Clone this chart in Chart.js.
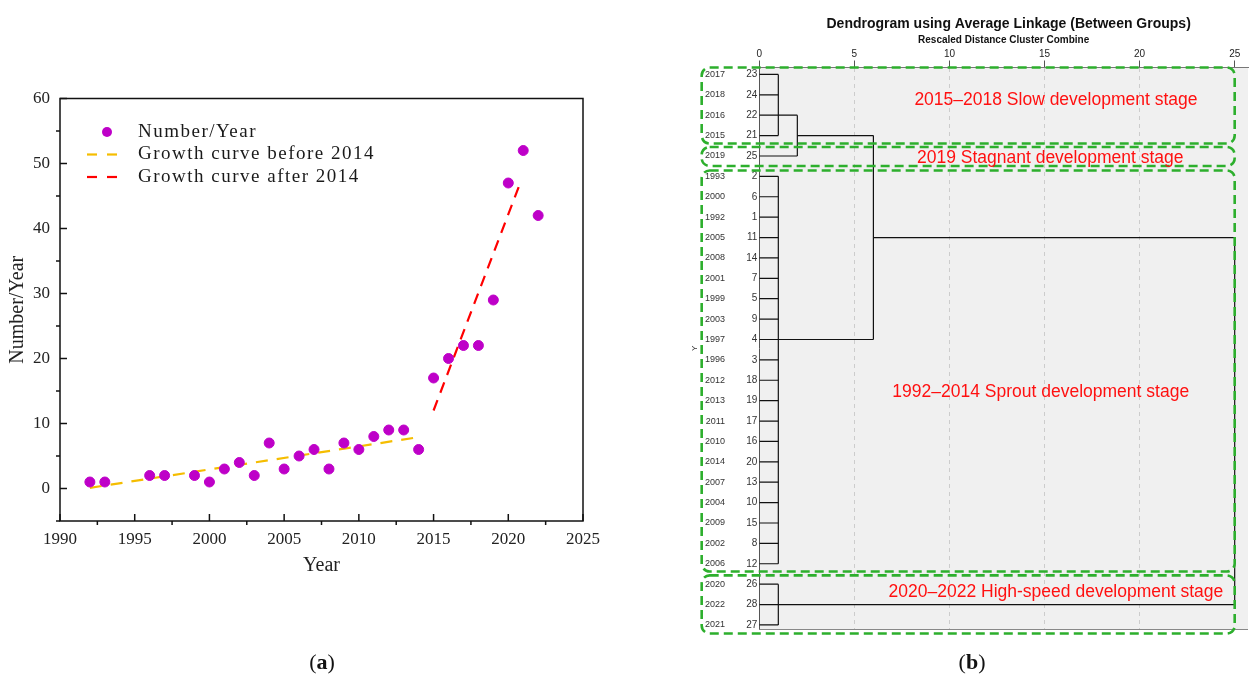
<!DOCTYPE html>
<html>
<head>
<meta charset="utf-8">
<title>Growth and clustering of papers per year</title>
<script src="https://cdn.jsdelivr.net/npm/chart.js@4.4.1/dist/chart.umd.min.js"></script>
<style>
  body { margin: 0; background: #fff; }
  #page { position: relative; width: 1250px; height: 680px; overflow: hidden; }
  canvas { position: absolute; top: 0; }
  .caption { position: absolute; top: 649px; width: 100px; text-align: center;
             font: 22px/26px "Liberation Serif", serif; color: #111; }
</style>
</head>
<body>
<div id="page">
  <canvas id="chartA" width="620" height="680" style="left:0"></canvas>
  <canvas id="chartB" width="560" height="680" style="left:690px"></canvas>
  <div class="caption" style="left:272px">(<b>a</b>)</div>
  <div class="caption" style="left:922px">(<b>b</b>)</div>
</div>
<script>
// ---- panel (a) data: papers per year and the two growth lines ----
const years = [1992, 1993, 1996, 1997, 1999, 2000, 2001, 2002, 2003, 2004, 2005, 2006, 2007, 2008,
               2009, 2010, 2011, 2012, 2013, 2014, 2015, 2016, 2017, 2018, 2019, 2020, 2021, 2022];
const counts = [1, 1, 2, 2, 2, 1, 3, 4, 2, 7, 3, 5, 6, 3,
                7, 6, 8, 9, 9, 6, 17, 20, 22, 22, 29, 47, 52, 42];
const fitBeforeX = [1992, 2014];
const fitBeforeY = [0.1, 7.9];
const fitAfterX = [2015, 2020.7];
const fitAfterY = [12, 46.4];
const xTicksA = [1990, 1995, 2000, 2005, 2010, 2015, 2020, 2025];
const yTicksA = [0, 10, 20, 30, 40, 50, 60];

// ---- panel (b) data: dendrogram leaves (top to bottom) and merges ----
const leafYears = ['2017', '2018', '2016', '2015', '2019', '1993', '2000', '1992', '2005', '2008',
                   '2001', '1999', '2003', '1997', '1996', '2012', '2013', '2011', '2010', '2014',
                   '2007', '2004', '2009', '2002', '2006', '2020', '2022', '2021'];
const leafCases = [23, 24, 22, 21, 25, 2, 6, 1, 11, 14, 7, 5, 9, 4, 3, 18, 19, 17, 16, 20,
                   13, 10, 15, 8, 12, 26, 28, 27];
const distTicks = [0, 5, 10, 15, 20, 25];
// merge i joins mergeKids[i] at distance mergeHeights[i]; its link leaves at row mergeRows[i]
const mergeHeights = [1, 2, 1, 6, 1, 25];
const mergeRows = [2, 3, 13, 8, 26, 17];
const mergeKids = [
  ['L0', 'L1', 'L2', 'L3'],
  ['M0', 'L4'],
  ['L5', 'L6', 'L7', 'L8', 'L9', 'L10', 'L11', 'L12', 'L13', 'L14',
   'L15', 'L16', 'L17', 'L18', 'L19', 'L20', 'L21', 'L22', 'L23', 'L24'],
  ['M1', 'M2'],
  ['L25', 'L26', 'L27'],
  ['M3', 'M4']
];
const stageNames = ['2015–2018 Slow development stage', '2019 Stagnant development stage',
                    '1992–2014 Sprout development stage', '2020–2022 High-speed development stage'];
const stageTop = [-0.34, 3.56, 4.71, 24.57];
const stageBottom = [3.39, 4.49, 24.38, 27.42];
const stageLabelX = [15.6, 15.3, 14.8, 15.6];
const stageLabelRow = [1.25, 4.1, 15.6, 25.4];

const serif = '"Liberation Serif", "DejaVu Serif", serif';
const sans = '"Liberation Sans", Arial, sans-serif';

// box frame plus Origin-style ticks (major inward, minor outward)
const frameTicks = {
  id: 'frameTicks',
  afterDraw(chart) {
    const { ctx, chartArea: a, scales: { x, y } } = chart;
    ctx.save();
    ctx.strokeStyle = '#111';
    ctx.lineWidth = 1.5;
    ctx.strokeRect(a.left, a.top, a.right - a.left, a.bottom - a.top);
    xTicksA.forEach((v, i) => {
      const px = x.getPixelForValue(v);
      ctx.beginPath(); ctx.moveTo(px, a.bottom); ctx.lineTo(px, a.bottom - 7); ctx.stroke();
      if (i < xTicksA.length - 1) {
        const mx = x.getPixelForValue(v + 2.5);
        ctx.beginPath(); ctx.moveTo(mx, a.bottom); ctx.lineTo(mx, a.bottom + 4); ctx.stroke();
      }
    });
    yTicksA.forEach(v => {
      const py = y.getPixelForValue(v);
      ctx.beginPath(); ctx.moveTo(a.left, py); ctx.lineTo(a.left + 7, py); ctx.stroke();
      const my = y.getPixelForValue(v - 5);
      ctx.beginPath(); ctx.moveTo(a.left, my); ctx.lineTo(a.left - 4, my); ctx.stroke();
    });
    ctx.restore();
  }
};

// legend sitting inside the plot, top left
const insideLegend = {
  id: 'insideLegend',
  afterDraw(chart) {
    const { ctx, chartArea: a } = chart;
    ctx.save();
    ctx.font = '19px ' + serif;
    ctx.letterSpacing = '1.5px';
    ctx.textBaseline = 'middle';
    chart.data.datasets.forEach((ds, i) => {
      const y = a.top + 33.5 + i * 22.5;
      if (ds.showLine) {
        ctx.strokeStyle = ds.borderColor;
        ctx.lineWidth = ds.borderWidth;
        ctx.setLineDash([10, 10]);
        ctx.beginPath(); ctx.moveTo(a.left + 27, y); ctx.lineTo(a.left + 57, y); ctx.stroke();
        ctx.setLineDash([]);
      } else {
        ctx.fillStyle = ds.backgroundColor;
        ctx.beginPath(); ctx.arc(a.left + 47, y, 5, 0, Math.PI * 2); ctx.fill();
      }
      ctx.fillStyle = '#1a1a1a';
      ctx.fillText(ds.label, a.left + 78, y);
    });
    ctx.restore();
  }
};

new Chart(document.getElementById('chartA'), {
  type: 'scatter',
  data: {
    datasets: [
      {
        label: 'Number/Year',
        data: years.map((yr, i) => ({ x: yr, y: counts[i] })),
        backgroundColor: '#BE00C8',
        borderColor: '#BE00C8',
        pointRadius: 5,
        pointHoverRadius: 5
      },
      {
        label: 'Growth curve before 2014',
        data: fitBeforeX.map((v, i) => ({ x: v, y: fitBeforeY[i] })),
        showLine: true,
        borderColor: '#F5BD00',
        borderWidth: 2.2,
        borderDash: [12, 9],
        pointRadius: 0
      },
      {
        label: 'Growth curve after 2014',
        data: fitAfterX.map((v, i) => ({ x: v, y: fitAfterY[i] })),
        showLine: true,
        borderColor: '#FF0000',
        borderWidth: 2.2,
        borderDash: [11, 8],
        pointRadius: 0
      }
    ]
  },
  options: {
    responsive: false,
    animation: false,
    layout: { padding: { top: 98.5, right: 37, bottom: 99, left: 0 } },
    plugins: { legend: { display: false }, tooltip: { enabled: false } },
    scales: {
      x: {
        type: 'linear', min: 1990, max: 2025,
        afterBuildTicks: s => { s.ticks = xTicksA.map(v => ({ value: v })); },
        afterFit: s => { s.height = 60; },
        grid: { display: false, drawTicks: false },
        border: { display: false },
        ticks: { padding: 8, color: '#222', font: { family: serif, size: 17 }, callback: v => v },
        title: { display: true, text: 'Year', color: '#222', padding: { top: 0, bottom: 3 },
                 font: { family: serif, size: 20 } }
      },
      y: {
        type: 'linear', min: -5, max: 60,
        afterBuildTicks: s => { s.ticks = yTicksA.map(v => ({ value: v })); },
        afterFit: s => { s.width = 60; },
        grid: { display: false, drawTicks: false },
        border: { display: false },
        ticks: { padding: 10, color: '#222', font: { family: serif, size: 17 } },
        title: { display: true, text: 'Number/Year', color: '#222', padding: { top: 6, bottom: 0 },
                 font: { family: serif, size: 20 } }
      }
    }
  },
  plugins: [frameTicks, insideLegend]
});

// ---- panel (b) ----
function nodeOf(id) {
  const i = Number(id.slice(1));
  return id[0] === 'L' ? { x: 0, y: i } : { x: mergeHeights[i], y: mergeRows[i] };
}
const treeSegments = [];
mergeKids.forEach((kids, m) => {
  const h = mergeHeights[m];
  const pts = kids.map(nodeOf);
  const ys = pts.map(p => p.y);
  treeSegments.push([{ x: h, y: Math.min(...ys) }, { x: h, y: Math.max(...ys) }]);
  pts.forEach(p => treeSegments.push([{ x: p.x, y: p.y }, { x: h, y: p.y }]));
});

const plotBack = {
  id: 'plotBack',
  beforeDraw(chart) {
    const { ctx, chartArea: a } = chart;
    ctx.save();
    ctx.fillStyle = '#F0F0F0';
    ctx.fillRect(a.left, a.top, a.right - a.left, a.bottom - a.top);
    ctx.restore();
  },
  afterDraw(chart) {
    const { ctx, chartArea: a } = chart;
    ctx.save();
    ctx.strokeStyle = '#888';
    ctx.lineWidth = 1;
    ctx.beginPath(); ctx.moveTo(a.left, a.bottom + 0.5); ctx.lineTo(a.right, a.bottom + 0.5); ctx.stroke();
    ctx.fillStyle = '#111';
    ctx.font = 'bold 14px ' + sans;
    ctx.textAlign = 'center';
    ctx.textBaseline = 'middle';
    ctx.fillText('Dendrogram using Average Linkage (Between Groups)', (a.left + a.right) / 2 + 5, 24);
    ctx.restore();
  }
};

const stageBoxes = {
  id: 'stageBoxes',
  afterDraw(chart) {
    const { ctx, scales: { x, yCase } } = chart;
    ctx.save();
    stageNames.forEach((name, i) => {
      const x1 = x.getPixelForValue(-3.03), x2 = x.getPixelForValue(25);
      const y1 = yCase.getPixelForValue(stageTop[i]), y2 = yCase.getPixelForValue(stageBottom[i]);
      ctx.strokeStyle = '#2DAF2D';
      ctx.lineWidth = 2.6;
      ctx.setLineDash([9, 5]);
      ctx.beginPath();
      ctx.roundRect(x1, y1, x2 - x1, y2 - y1, 8);
      ctx.stroke();
      ctx.setLineDash([]);
      ctx.fillStyle = '#FF1010';
      ctx.font = '17.5px ' + sans;
      ctx.textAlign = 'center';
      ctx.textBaseline = 'middle';
      ctx.fillText(name, x.getPixelForValue(stageLabelX[i]), yCase.getPixelForValue(stageLabelRow[i]));
    });
    ctx.restore();
  }
};

const rowTicks = s => { s.ticks = leafCases.map((c, i) => ({ value: i })); };

new Chart(document.getElementById('chartB'), {
  type: 'scatter',
  data: {
    datasets: treeSegments.map(seg => ({
      data: seg,
      showLine: true,
      borderColor: '#111111',
      borderWidth: 1.2,
      pointRadius: 0,
      yAxisID: 'yCase'
    }))
  },
  options: {
    responsive: false,
    animation: false,
    layout: { padding: { top: 0, right: 2, bottom: 51, left: 0 } },
    plugins: { legend: { display: false }, tooltip: { enabled: false } },
    scales: {
      x: {
        type: 'linear', position: 'top', min: 0, max: 25.7,
        afterBuildTicks: s => { s.ticks = distTicks.map(v => ({ value: v })); },
        afterFit: s => { s.height = 67.5; },
        grid: {
          color: c => (c.tick && c.tick.value > 0 && c.tick.value < 25) ? '#CCCCCC' : 'rgba(0,0,0,0)',
          tickColor: '#555', tickLength: 7, tickBorderDash: [], lineWidth: 1
        },
        border: { color: '#777', dash: [4, 4] },
        ticks: { padding: 0, color: '#222', font: { family: sans, size: 10 } },
        title: { display: true, text: 'Rescaled Distance Cluster Combine', color: '#111',
                 padding: { top: 34, bottom: 0 }, font: { family: sans, size: 10, weight: 'bold' } }
      },
      yCase: {
        type: 'linear', position: 'left', weight: 0, reverse: true, min: -0.34, max: 27.2,
        afterBuildTicks: rowTicks,
        afterFit: s => { s.width = 29.3; },
        grid: { display: false, drawTicks: false },
        border: { display: true, color: '#555' },
        ticks: { padding: 2, autoSkip: false, color: '#333', font: { family: sans, size: 10 },
                 callback: v => leafCases[v] }
      },
      yYear: {
        type: 'linear', position: 'left', weight: 1, reverse: true, min: -0.34, max: 27.2,
        afterBuildTicks: rowTicks,
        afterFit: s => { s.width = 40; },
        grid: { display: false, drawTicks: false },
        border: { display: false },
        ticks: { padding: 5, autoSkip: false, color: '#333', font: { family: sans, size: 9 },
                 callback: v => leafYears[v] },
        title: { display: true, text: 'Y', color: '#333', padding: 0, font: { family: sans, size: 8 } }
      }
    }
  },
  plugins: [plotBack, stageBoxes]
});
</script>
</body>
</html>
